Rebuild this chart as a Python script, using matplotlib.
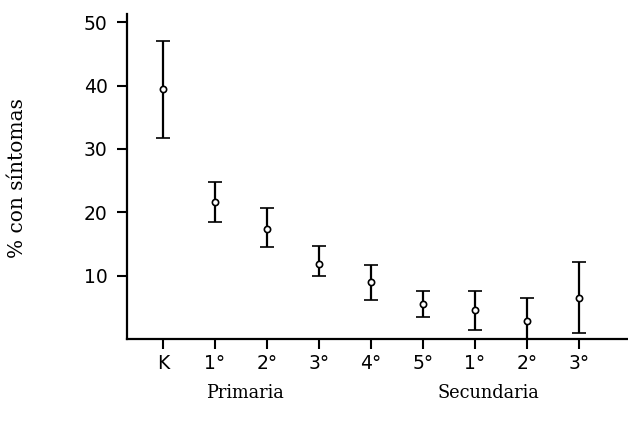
import numpy as np
import matplotlib
matplotlib.use("Agg")
import matplotlib.pyplot as plt

# === Data ===
grades = ["K", "1°", "2°", "3°", "4°", "5°", "1°", "2°", "3°"]
pct = [39.5, 21.6, 17.3, 11.8, 9.0, 5.5, 4.6, 2.9, 6.5]
upper = [47.1, 24.8, 20.7, 14.7, 11.7, 7.5, 7.5, 6.5, 12.1]
lower = [31.7, 18.5, 14.5, 10.0, 6.1, 3.4, 1.5, 0.0, 0.9]
groups = ["Primaria", "Secundaria"]

x = np.arange(1, len(grades) + 1)
pct = np.array(pct)
yerr = [pct - np.array(lower), np.array(upper) - pct]

fig = plt.figure(figsize=(6.28, 4.30), dpi=100)
ax = fig.add_axes([0.2022, 0.2116, 0.7978, 0.7558])

ax.errorbar(x, pct, yerr=yerr, fmt="o", color="black", mfc="white", mec="black",
            ms=4.5, mew=1.2, elinewidth=1.6, capsize=5, capthick=1.6)

ax.set_xlim(0.31, 9.94)
ax.set_ylim(0, 51.3)
ax.set_yticks([10, 20, 30, 40, 50])
ax.set_xticks(x)
ax.set_xticklabels(grades)

for side in ["top", "right"]:
    ax.spines[side].set_visible(False)
for side in ["left", "bottom"]:
    ax.spines[side].set_linewidth(1.6)

ax.tick_params(axis="both", direction="out", length=7, width=1.5,
               labelsize=13.5, pad=7)
ax.tick_params(axis="x", pad=4)
for lbl in ax.get_xticklabels() + ax.get_yticklabels():
    lbl.set_fontweight("medium")

# y label, rotated, far to the left
fig.text(18 / 628, 1 - 178 / 430, "% con síntomas", family="DejaVu Serif",
         fontsize=14.5, rotation=90, ha="center", va="center")

# group labels under the tick labels
fig.text(245 / 628, 1 - 393 / 430, groups[0], family="DejaVu Serif",
         fontsize=12.8, ha="center", va="center")
fig.text(488 / 628, 1 - 393 / 430, groups[1], family="DejaVu Serif",
         fontsize=12.8, ha="center", va="center")

plt.savefig("out.png", dpi=100)
